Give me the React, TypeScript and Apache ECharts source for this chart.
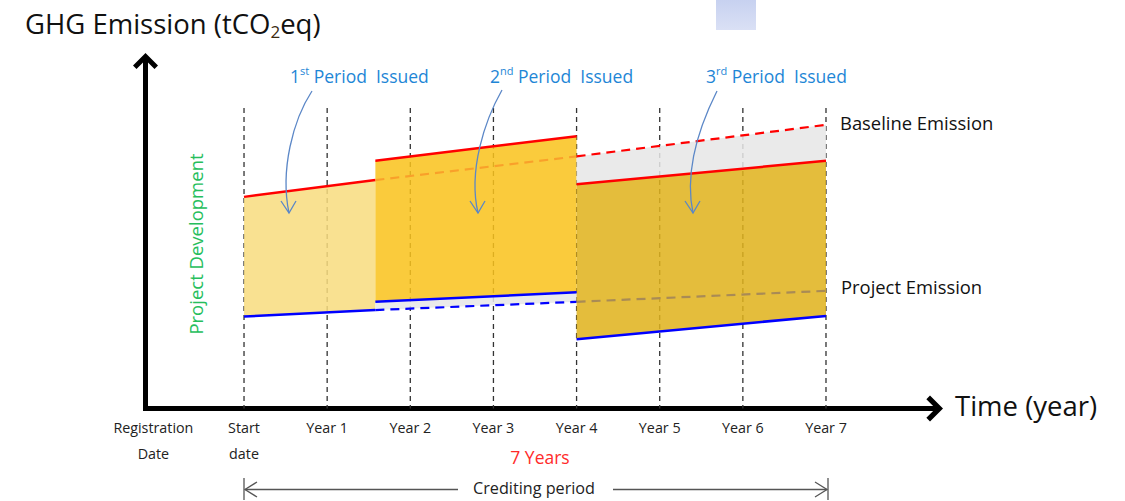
import React, { useEffect, useRef } from "react";
import * as echarts from "echarts";

// ---- Data (conceptual values, tCO2eq index) ----
const periodBounds = [0, 1.58, 4, 7]; // start, end of 1st, 2nd, 3rd periods (years)
const baselineEmission = [61.7, 66.6, 73.5, 82.7]; // expected baseline at period bounds
const projectEmission = [26.8, 28.7, 31.1, 34.3]; // expected project emission at period bounds
const period2Baseline = [72.2, 79.4];
const period2Project = [31.1, 33.9];
const period3Baseline = [65.4, 72.2];
const period3Project = [20.2, 27.0];
const yearMarks = [0, 1, 2, 3, 4, 5, 6, 7];
const tickValues = [-1.09, 0, 1, 2, 3, 4, 5, 6, 7];
const tickLabels = [
  "Registration\nDate",
  "Start\ndate",
  "Year 1",
  "Year 2",
  "Year 3",
  "Year 4",
  "Year 5",
  "Year 6",
  "Year 7",
];
const periodOrdinals = ["1", "2", "3"];
const periodSuffixes = ["st", "nd", "rd"];

const FONT = "'Open Sans', 'Noto Sans', 'DejaVu Sans', sans-serif";
const ARROW =
  "path://M12.5,0 L25,12.5 L21.5,16 L15,9.5 L15,25 L10,25 L10,9.5 L3.5,16 L0,12.5 Z";
const GUIDE_TOP = 87.6;

function band(name: string, t0: number, t1: number, lo: number[], hi: number[], color: string) {
  return {
    type: "custom",
    name,
    z: 2,
    silent: true,
    data: [[t0, lo[0], hi[0], t1, lo[1], hi[1]]],
    encode: { x: [0, 3], y: [1, 2, 4, 5] },
    renderItem: (_p: any, api: any) => {
      const pts = [
        api.coord([api.value(0), api.value(2)]),
        api.coord([api.value(3), api.value(5)]),
        api.coord([api.value(3), api.value(4)]),
        api.coord([api.value(0), api.value(1)]),
      ];
      return {
        type: "polygon",
        shape: { points: pts },
        style: { fill: color, opacity: 0.86 },
      };
    },
  };
}

function seg(t0: number, t1: number, v: number[], color: string, dashed: boolean) {
  return {
    type: "line",
    z: 5,
    silent: true,
    symbol: "none",
    data: [
      [t0, v[0]],
      [t1, v[1]],
    ],
    lineStyle: { color, width: dashed ? 2.2 : 2.5, type: dashed ? [9, 6] : "solid" },
  };
}

export default function App() {
  const ref = useRef<HTMLDivElement>(null);
  useEffect(() => {
    if (!ref.current) return;
    const chart = echarts.init(ref.current, undefined, { renderer: "svg" });
    const [p0, p1, p2, p3] = periodBounds;

    const curved = (sx: number, sy: number, c1x: number, c1y: number, c2x: number, c2y: number, ex: number, ey: number) => [
      {
        type: "bezierCurve",
        z: 100,
        shape: { x1: sx, y1: sy, cpx1: c1x, cpy1: c1y, cpx2: c2x, cpy2: c2y, x2: ex, y2: ey },
        style: { stroke: "#5B87C7", lineWidth: 1.3, fill: null },
      },
      {
        type: "polyline",
        z: 100,
        shape: { points: [[ex - 8, ey - 12], [ex, ey], [ex + 7, ey - 12]] },
        style: { stroke: "#5B87C7", lineWidth: 1.3, fill: null },
      },
    ];

    const periodLabelX = [290, 490, 706];
    const periodText = periodOrdinals.map((o, i) => ({
      type: "text",
      z: 100,
      x: periodLabelX[i],
      y: 65,
      style: {
        text: `{n|${o}}{s|${periodSuffixes[i]}}{n| Period  Issued}`,
        rich: {
          n: { fontSize: 17.5, lineHeight: 22, fill: "#1E86D6", fontFamily: FONT },
          s: { fontSize: 11, lineHeight: 12, verticalAlign: "top", fill: "#1E86D6", fontFamily: FONT },
        },
        verticalAlign: "top",
      },
    }));

    const option: any = {
      animation: false,
      backgroundColor: "#ffffff",
      grid: { left: 145.5, right: 195, top: 65.5, bottom: 92.5, containLabel: false, outerBoundsMode: "none" },
      xAxis: {
        type: "value",
        min: -1.185,
        max: 8.251,
        axisLine: {
          show: true,
          onZero: false,
          symbol: ["none", ARROW],
          symbolSize: [26, 26],
          lineStyle: { color: "#000", width: 5, cap: "square" },
        },
        axisTick: { show: false },
        splitLine: { show: false },
        axisLabel: {
          customValues: tickValues,
          formatter: (v: number) => {
            const i = tickValues.findIndex((x) => Math.abs(x - v) < 1e-6);
            return i >= 0 ? tickLabels[i] : "";
          },
          color: "#222",
          fontSize: 14.3,
          lineHeight: 26,
          margin: 6,
          fontFamily: FONT,
        },
      },
      yAxis: {
        type: "value",
        min: 0,
        max: 100,
        axisLine: {
          show: true,
          onZero: false,
          symbol: ["none", ARROW],
          symbolSize: [25, 25],
          lineStyle: { color: "#000", width: 5, cap: "square" },
        },
        axisTick: { show: false },
        splitLine: { show: false },
        axisLabel: { show: false },
      },
      series: [
        {
          type: "custom",
          name: "guides",
          z: 1,
          silent: true,
          data: yearMarks.map((t) => [t]),
          encode: { x: 0 },
          renderItem: (_p: any, api: any) => {
            const a = api.coord([api.value(0), GUIDE_TOP]);
            const b = api.coord([api.value(0), 0]);
            return {
              type: "line",
              shape: { x1: a[0], y1: a[1], x2: b[0], y2: b[1] },
              style: { stroke: "#333", lineWidth: 1.3, lineDash: [5, 4] },
            };
          },
        },
        band("p1", p0, p1, [projectEmission[0], projectEmission[1]], [baselineEmission[0], baselineEmission[1]], "#F8DC7F"),
        band("p2", p1, p2, period2Project, period2Baseline, "#F9C31C"),
        band("p2grey", p1, p2, [projectEmission[1], projectEmission[2]], period2Project, "#E7E7E7"),
        band("p3", p2, p3, period3Project, period3Baseline, "#DFB21C"),
        band("p3grey", p2, p3, period3Baseline, [baselineEmission[2], baselineEmission[3]], "#E7E7E7"),
        seg(p0, p1, [baselineEmission[0], baselineEmission[1]], "#FF0000", false),
        seg(p1, p2, [baselineEmission[1], baselineEmission[2]], "#F9A02A", true),
        seg(p2, p3, [baselineEmission[2], baselineEmission[3]], "#FF0000", true),
        seg(p1, p2, period2Baseline, "#FF0000", false),
        seg(p2, p3, period3Baseline, "#FF0000", false),
        seg(p0, p1, [projectEmission[0], projectEmission[1]], "#0000FF", false),
        seg(p1, p2, [projectEmission[1], projectEmission[2]], "#0000FF", true),
        seg(p2, p3, [projectEmission[2], projectEmission[3]], "#A98B55", true),
        seg(p1, p2, period2Project, "#0000FF", false),
        seg(p2, p3, period3Project, "#0000FF", false),
      ],
      graphic: [
        {
          type: "rect",
          shape: { x: 716, y: 0, width: 40, height: 30 },
          style: {
            fill: new echarts.graphic.LinearGradient(0, 0, 0, 1, [
              { offset: 0, color: "#C7D1F0" },
              { offset: 1, color: "#DAE0F5" },
            ]),
          },
        },
        {
          type: "text",
          x: 25,
          y: 6,
          style: {
            text: "{a|GHG Emission (tCO}{s|2}{a|eq)}",
            rich: {
              a: { fontSize: 27.5, lineHeight: 34, fill: "#111", fontFamily: FONT },
              s: { fontSize: 17, lineHeight: 8, verticalAlign: "bottom", fill: "#3A2A10", fontFamily: FONT },
            },
            verticalAlign: "top",
          },
        },
        {
          type: "text",
          x: 955,
          y: 405,
          style: { text: "Time (year)", fontSize: 27.5, fill: "#111", fontFamily: FONT, verticalAlign: "middle" },
        },
        ...periodText,
        {
          type: "text",
          x: 840,
          y: 122,
          style: { text: "Baseline Emission", fontSize: 18.4, fill: "#111", fontFamily: FONT, verticalAlign: "middle" },
        },
        {
          type: "text",
          x: 841,
          y: 286,
          style: { text: "Project Emission", fontSize: 18.4, fill: "#111", fontFamily: FONT, verticalAlign: "middle" },
        },
        {
          type: "text",
          x: 195,
          y: 244,
          rotation: Math.PI / 2,
          style: {
            text: "Project Development",
            fontSize: 18.5,
            fill: "#26BE5C",
            fontFamily: FONT,
            align: "center",
            verticalAlign: "middle",
          },
        },
        {
          type: "text",
          x: 540,
          y: 457,
          style: { text: "7 Years", fontSize: 17.5, fill: "#FF2A2A", fontFamily: FONT, align: "center", verticalAlign: "middle" },
        },
        {
          type: "text",
          x: 534,
          y: 488,
          style: { text: "Crediting period", fontSize: 16.2, fill: "#222", fontFamily: FONT, align: "center", verticalAlign: "middle" },
        },
        { type: "line", shape: { x1: 245, y1: 489.5, x2: 458, y2: 489.5 }, style: { stroke: "#555", lineWidth: 1.3 } },
        { type: "line", shape: { x1: 613, y1: 489.5, x2: 827, y2: 489.5 }, style: { stroke: "#555", lineWidth: 1.3 } },
        { type: "line", shape: { x1: 244, y1: 478, x2: 244, y2: 500 }, style: { stroke: "#555", lineWidth: 1.3 } },
        { type: "line", shape: { x1: 828, y1: 478, x2: 828, y2: 500 }, style: { stroke: "#555", lineWidth: 1.3 } },
        { type: "polyline", shape: { points: [[257, 482], [245, 489.5], [257, 497]] }, style: { stroke: "#555", lineWidth: 1.3, fill: null } },
        { type: "polyline", shape: { points: [[815, 482], [827, 489.5], [815, 497]] }, style: { stroke: "#555", lineWidth: 1.3, fill: null } },
        ...curved(312, 91, 293, 120, 280, 170, 289, 213),
        ...curved(502, 90, 485, 120, 468, 170, 478, 213),
        ...curved(717, 91, 700, 125, 684, 170, 693, 213),
      ],
    };
    chart.setOption(option);
    return () => chart.dispose();
  }, []);
  return (
    <div
      ref={ref}
      style={{ position: "fixed", left: 0, top: 0, width: 1125, height: 501, background: "#fff" }}
    />
  );
}
